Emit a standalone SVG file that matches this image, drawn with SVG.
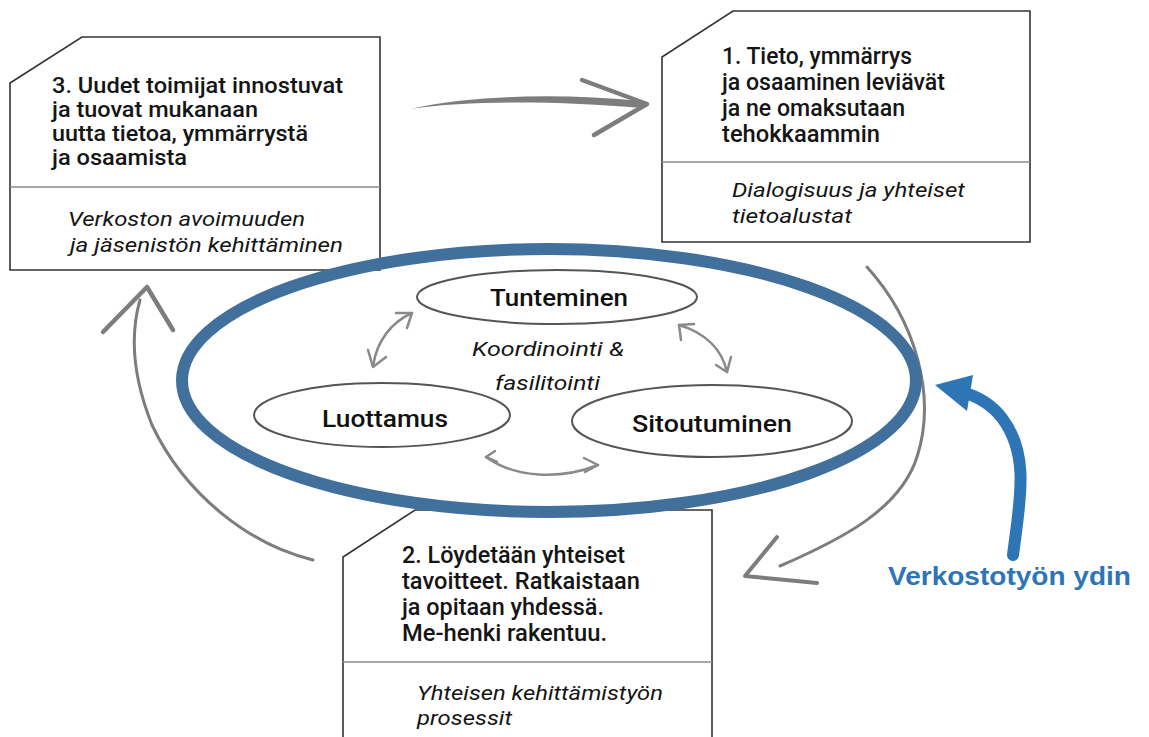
<svg xmlns="http://www.w3.org/2000/svg" width="1149" height="737" viewBox="0 0 1149 737">
<style>
.box{fill:#fff;stroke:#333;stroke-width:1.6}
.div{stroke:#8a8a8a;stroke-width:1.6;fill:none}
.t{font-family:Roboto,"Liberation Sans",Arial,sans-serif;font-size:23px;font-weight:500;fill:#151515}
.t3{font-size:22px}
.i{font-family:Roboto,"Liberation Sans",Arial,sans-serif;font-size:20px;font-style:italic;fill:#151515}
.el{fill:none;stroke:#555;stroke-width:2}
.lbl{font-family:Roboto,"Liberation Sans",Arial,sans-serif;font-size:23px;font-weight:500;fill:#111;text-anchor:middle}
.g{fill:none;stroke:#7d7d7d;stroke-linecap:round;stroke-linejoin:round}
.gi{fill:none;stroke:#8a8a8a;stroke-width:2.5;stroke-linecap:round;stroke-linejoin:round}
</style>
<defs>
<filter id="soft" x="-5%" y="-5%" width="110%" height="110%"><feGaussianBlur stdDeviation="0.6"/></filter>
</defs>
<rect width="1149" height="737" fill="#fff"/>

<g id="box3">
<path class="box" d="M82,37 L380,37 L380,270 L10,270 L10,83 Z"/>
<path class="div" d="M10,187 L380,187"/>
<text class="t t3" x="52" y="93" textLength="291" lengthAdjust="spacingAndGlyphs">3. Uudet toimijat innostuvat</text>
<text class="t t3" x="52" y="117" textLength="206" lengthAdjust="spacingAndGlyphs">ja tuovat mukanaan</text>
<text class="t t3" x="52" y="141" textLength="256" lengthAdjust="spacingAndGlyphs">uutta tietoa, ymmärrystä</text>
<text class="t t3" x="52" y="165" textLength="135" lengthAdjust="spacingAndGlyphs">ja osaamista</text>
<text class="i" x="68" y="226" textLength="237" lengthAdjust="spacingAndGlyphs">Verkoston avoimuuden</text>
<text class="i" x="70" y="252" textLength="273" lengthAdjust="spacingAndGlyphs">ja jäsenistön kehittäminen</text>
</g>

<g id="box1">
<path class="box" d="M733,11 L1030,11 L1030,242 L662,242 L662,57 Z"/>
<path class="div" d="M662,162 L1030,162"/>
<text class="t" x="722" y="64" textLength="190" lengthAdjust="spacingAndGlyphs">1. Tieto, ymmärrys</text>
<text class="t" x="722" y="90" textLength="223" lengthAdjust="spacingAndGlyphs">ja osaaminen leviävät</text>
<text class="t" x="722" y="116" textLength="183" lengthAdjust="spacingAndGlyphs">ja ne omaksutaan</text>
<text class="t" x="722" y="142" textLength="158" lengthAdjust="spacingAndGlyphs">tehokkaammin</text>
<text class="i" x="732" y="197" textLength="233" lengthAdjust="spacingAndGlyphs">Dialogisuus ja yhteiset</text>
<text class="i" x="732" y="223" textLength="120" lengthAdjust="spacingAndGlyphs">tietoalustat</text>
</g>

<g id="box2">
<path class="box" d="M343,745 L343,557 L415,510 L712,510 L712,745"/>
<path class="div" d="M343,662 L712,662"/>
<text class="t" x="402" y="563" textLength="223" lengthAdjust="spacingAndGlyphs">2. Löydetään yhteiset</text>
<text class="t" x="402" y="589" textLength="238" lengthAdjust="spacingAndGlyphs">tavoitteet. Ratkaistaan</text>
<text class="t" x="402" y="615" textLength="202" lengthAdjust="spacingAndGlyphs">ja opitaan yhdessä.</text>
<text class="t" x="402" y="641" textLength="205" lengthAdjust="spacingAndGlyphs">Me-henki rakentuu.</text>
<text class="i" x="417" y="700" textLength="246" lengthAdjust="spacingAndGlyphs">Yhteisen kehittämistyön</text>
<text class="i" x="417" y="725" textLength="95" lengthAdjust="spacingAndGlyphs">prosessit</text>
</g>

<g id="tunteminen">
<ellipse class="el" cx="557" cy="297" rx="140" ry="27"/>
<text class="lbl" x="559" y="306" textLength="138" lengthAdjust="spacingAndGlyphs">Tunteminen</text>
</g>
<g id="luottamus">
<ellipse class="el" cx="382" cy="415" rx="128" ry="32"/>
<text class="lbl" x="385" y="427" textLength="126" lengthAdjust="spacingAndGlyphs">Luottamus</text>
</g>
<g id="sitoutuminen">
<ellipse class="el" cx="712" cy="421" rx="140" ry="36"/>
<text class="lbl" x="712" y="432" textLength="160" lengthAdjust="spacingAndGlyphs">Sitoutuminen</text>
</g>
<g id="center-label">
<text class="i" x="472" y="356" textLength="152" lengthAdjust="spacingAndGlyphs">Koordinointi &amp;</text>
<text class="i" x="495" y="390" textLength="105" lengthAdjust="spacingAndGlyphs">fasilitointi</text>
</g>

<g id="connectors" filter="url(#soft)">
<!-- inner double arrows -->
<path class="gi" d="M373,366 C377,340 392,322 412,313"/>
<path class="gi" d="M368,350 L373,367 L386,357"/>
<path class="gi" d="M396,313 L412,313 L407,328"/>
<path class="gi" d="M679,325 C706,333 722,350 727,372"/>
<path class="gi" d="M681,340 L679,325 L694,324"/>
<path class="gi" d="M716,365 L727,372 L731,357"/>
<path class="gi" d="M486,457 C515,478 560,480 598,465"/>
<path class="gi" d="M495,451 L486,457 L497,462"/>
<path class="gi" d="M584,458 L598,465 L585,472"/>
<!-- outer gray cycle arrows -->
<path fill="#7d7d7d" d="M410,109 C470,95 560,93 642,101 L642,108 C560,101 470,100 410,109 Z"/>
<path class="g" stroke-width="4.5" d="M582,80 L647,104 L594,135"/>
<path class="g" stroke-width="3" d="M867,267 C915,320 937,395 917,457 C900,510 840,540 780,566"/>
<path class="g" stroke-width="4" d="M777,537 L745,576 L817,583"/>
<path class="g" stroke-width="3" d="M313,560 C250,545 185,495 152,425 C132,375 130,335 140,300"/>
<path class="g" stroke-width="4.5" d="M103,332 L147,287 L173,330"/>
</g>

<g id="core">
<ellipse cx="549" cy="380.5" rx="367" ry="131.5" fill="none" stroke="#41709c" stroke-width="12"/>
</g>

<g id="label-ydin">
<path d="M1013,555 C1020,500 1030,455 1002,418 C992,405 980,397 962,392" fill="none" stroke="#2e75b6" stroke-width="12" stroke-linecap="round"/>
<polygon points="935,385 973,375 967,411" fill="#2e75b6"/>
<text x="888" y="585" font-family="Liberation Sans, Arial, sans-serif" font-size="26" font-weight="bold" fill="#2e75b6" textLength="243" lengthAdjust="spacingAndGlyphs">Verkostotyön ydin</text>
</g>
</svg>
